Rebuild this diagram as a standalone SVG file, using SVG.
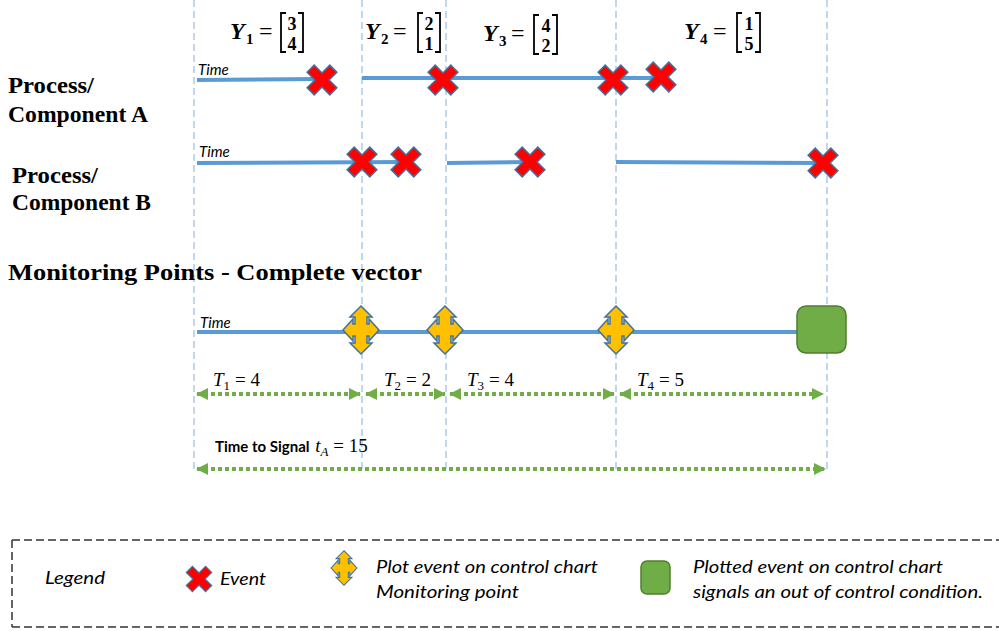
<svg xmlns="http://www.w3.org/2000/svg" width="999" height="632" viewBox="0 0 999 632">
<style>
.vline{stroke:#9DC3E6;stroke-width:1.3;stroke-dasharray:7 4;fill:none}
.tl{stroke:#5B9BD5;stroke-width:4;fill:none}
.head{font-family:"Liberation Serif",serif;font-weight:bold;font-size:23px;fill:#000}
.time{font-family:Lato,"Liberation Sans",sans-serif;font-style:italic;font-size:15px;fill:#000}
.my{font-family:"Liberation Serif",serif;font-weight:bold;font-style:italic;font-size:24px;fill:#000}
.msub{font-family:"Liberation Serif",serif;font-weight:bold;font-size:15px;fill:#000}
.meq{font-family:"Liberation Serif",serif;font-size:24px;fill:#000}
.mdig{font-family:"Liberation Serif",serif;font-weight:bold;font-size:18px;fill:#000;text-anchor:middle}
.brk{stroke:#000;stroke-width:1.8;fill:none}
.tt{font-family:"Liberation Serif",serif;font-style:italic;font-size:19px;fill:#000}
.ts{font-family:"Liberation Serif",serif;font-size:13px;fill:#000}
.te{font-family:"Liberation Serif",serif;font-size:19px;fill:#000}
.garrow{stroke:#70AD47;stroke-width:4;stroke-dasharray:4 3;fill:none;marker-start:url(#ga);marker-end:url(#ga)}
.leg{font-family:Lato,"Liberation Sans",sans-serif;font-style:italic;font-size:17px;fill:#000}
.cross{fill:#FF0000;stroke:#41719C;stroke-width:1.5}
.star{fill:#FFC000;stroke:#41719C;stroke-width:1.5}
.sq{fill:#70AD47;stroke:#507E32;stroke-width:1.5}
</style>
<defs>
<marker id="ga" viewBox="0 0 12 12" refX="11" refY="6" markerWidth="12" markerHeight="12" markerUnits="userSpaceOnUse" orient="auto-start-reverse">
<path d="M0,0 L12,6 L0,12 Z" fill="#70AD47"/>
</marker>
<polygon id="x" class="cross" transform="rotate(45)" points="-5,-16 5,-16 5,-5 16,-5 16,5 5,5 5,16 -5,16 -5,5 -16,5 -16,-5 -5,-5"/>
<polygon id="q" class="star" points="0,-24 11,-13 6,-13 6,-6 8,-6 8,-11 18,0 8,11 8,6 6,6 6,13 11,13 0,24 -11,13 -6,13 -6,6 -8,6 -8,11 -18,0 -8,-11 -8,-6 -6,-6 -6,-13 -11,-13"/>
</defs>

<g id="gridlines">
<line class="vline" x1="194" y1="0" x2="194" y2="470"/>
<line class="vline" x1="362" y1="0" x2="362" y2="470"/>
<line class="vline" x1="446" y1="0" x2="446" y2="470"/>
<line class="vline" x1="616" y1="0" x2="616" y2="470"/>
<line class="vline" x1="827" y1="0" x2="827" y2="470"/>
</g>

<g id="vectors">
<g id="Y1">
<text class="my" x="230" y="39">Y</text><text class="msub" x="246" y="44">1</text>
<text class="meq" x="259" y="39">=</text>
<path class="brk" d="M286,13 L281,13 L281,52 L286,52"/>
<text class="mdig" x="292" y="30">3</text><text class="mdig" x="292" y="50">4</text>
<path class="brk" d="M298,13 L303,13 L303,52 L298,52"/>
</g>
<g id="Y2">
<text class="my" x="365" y="39">Y</text><text class="msub" x="381" y="44">2</text>
<text class="meq" x="393" y="39">=</text>
<path class="brk" d="M423,13 L418,13 L418,52 L423,52"/>
<text class="mdig" x="429" y="30">2</text><text class="mdig" x="429" y="50">1</text>
<path class="brk" d="M435,13 L440,13 L440,52 L435,52"/>
</g>
<g id="Y3">
<text class="my" x="483" y="41">Y</text><text class="msub" x="499" y="46">3</text>
<text class="meq" x="511" y="41">=</text>
<path class="brk" d="M539,15 L534,15 L534,54 L539,54"/>
<text class="mdig" x="546" y="32">4</text><text class="mdig" x="546" y="52">2</text>
<path class="brk" d="M552,15 L557,15 L557,54 L552,54"/>
</g>
<g id="Y4">
<text class="my" x="684" y="39">Y</text><text class="msub" x="700" y="44">4</text>
<text class="meq" x="713" y="39">=</text>
<path class="brk" d="M742,13 L737,13 L737,52 L742,52"/>
<text class="mdig" x="749" y="30">1</text><text class="mdig" x="749" y="50">5</text>
<path class="brk" d="M755,13 L760,13 L760,52 L755,52"/>
</g>
</g>

<g id="labels">
<text class="head" x="8" y="93" textLength="86" lengthAdjust="spacingAndGlyphs">Process/</text>
<text class="head" x="8" y="122" textLength="140" lengthAdjust="spacingAndGlyphs">Component A</text>
<text class="head" x="12" y="183" textLength="86" lengthAdjust="spacingAndGlyphs">Process/</text>
<text class="head" x="12" y="210" textLength="139" lengthAdjust="spacingAndGlyphs">Component B</text>
<text class="head" x="8" y="280" textLength="414" lengthAdjust="spacingAndGlyphs">Monitoring Points - Complete vector</text>
</g>

<g id="connectors">
<path class="tl" d="M197,80 L320,79"/>
<path class="tl" d="M362,78 L661,78"/>
<path class="tl" d="M197,163 L406,162"/>
<path class="tl" d="M447,163 L530,162"/>
<path class="tl" d="M616,162 L823,163"/>
<path class="tl" d="M197,332 L797,332"/>
<line class="garrow" x1="197" y1="394" x2="360" y2="394"/>
<line class="garrow" x1="366" y1="394" x2="445" y2="394"/>
<line class="garrow" x1="450" y1="394" x2="614" y2="394"/>
<line class="garrow" x1="620" y1="394" x2="823" y2="394"/>
<line class="garrow" x1="197" y1="469" x2="825" y2="469"/>
</g>

<g id="timelabels">
<text class="time" x="198" y="75">Time</text>
<text class="time" x="199" y="157">Time</text>
<text class="time" x="200" y="328">Time</text>
</g>

<g id="processA">
<use href="#x" x="322" y="80"/>
<use href="#x" x="443" y="80"/>
<use href="#x" x="613" y="80"/>
<use href="#x" x="661" y="77"/>
</g>
<g id="processB">
<use href="#x" x="362" y="162"/>
<use href="#x" x="406" y="162"/>
<use href="#x" x="530" y="162"/>
<use href="#x" x="823" y="163"/>
</g>
<g id="monitoring">
<use href="#q" x="361" y="330"/>
<use href="#q" x="445" y="330"/>
<use href="#q" x="616" y="330"/>
<rect class="sq" x="797" y="306" width="49" height="47" rx="9"/>
</g>

<g id="intervals">
<text x="213" y="386"><tspan class="tt">T</tspan><tspan class="ts" dy="4">1</tspan><tspan class="te" dy="-4" dx="5">= 4</tspan></text>
<text x="384" y="386"><tspan class="tt">T</tspan><tspan class="ts" dy="4">2</tspan><tspan class="te" dy="-4" dx="5">= 2</tspan></text>
<text x="467" y="386"><tspan class="tt">T</tspan><tspan class="ts" dy="4">3</tspan><tspan class="te" dy="-4" dx="5">= 4</tspan></text>
<text x="637" y="386"><tspan class="tt">T</tspan><tspan class="ts" dy="4">4</tspan><tspan class="te" dy="-4" dx="5">= 5</tspan></text>
<text x="215" y="452"><tspan font-family="Lato,'Liberation Sans',sans-serif" font-weight="bold" font-size="15">Time to Signal </tspan><tspan class="tt" dx="2">t</tspan><tspan class="ts" dy="4" font-style="italic">A</tspan><tspan class="te" dy="-4" dx="5">= 15</tspan></text>
</g>

<g id="legend">
<path d="M12,540 L999,540 M12,627 L999,627 M12,540 L12,627" stroke="#333" stroke-width="1.5" stroke-dasharray="8 4" fill="none"/>
<text class="leg" x="45" y="584" font-size="18" textLength="60" lengthAdjust="spacingAndGlyphs">Legend</text>
<use href="#x" transform="translate(199,579) scale(0.85)"/>
<text class="leg" x="220" y="585" font-size="18" textLength="46" lengthAdjust="spacingAndGlyphs">Event</text>
<use href="#q" transform="translate(344,568) scale(0.72)"/>
<text class="leg" x="376" y="573" textLength="222" lengthAdjust="spacingAndGlyphs">Plot event on control chart</text>
<text class="leg" x="376" y="598" textLength="143" lengthAdjust="spacingAndGlyphs">Monitoring point</text>
<rect class="sq" x="641" y="561" width="29" height="33" rx="6"/>
<text class="leg" x="693" y="573" textLength="250" lengthAdjust="spacingAndGlyphs">Plotted event on control chart</text>
<text class="leg" x="693" y="598" textLength="290" lengthAdjust="spacingAndGlyphs">signals an out of control condition.</text>
</g>
</svg>
